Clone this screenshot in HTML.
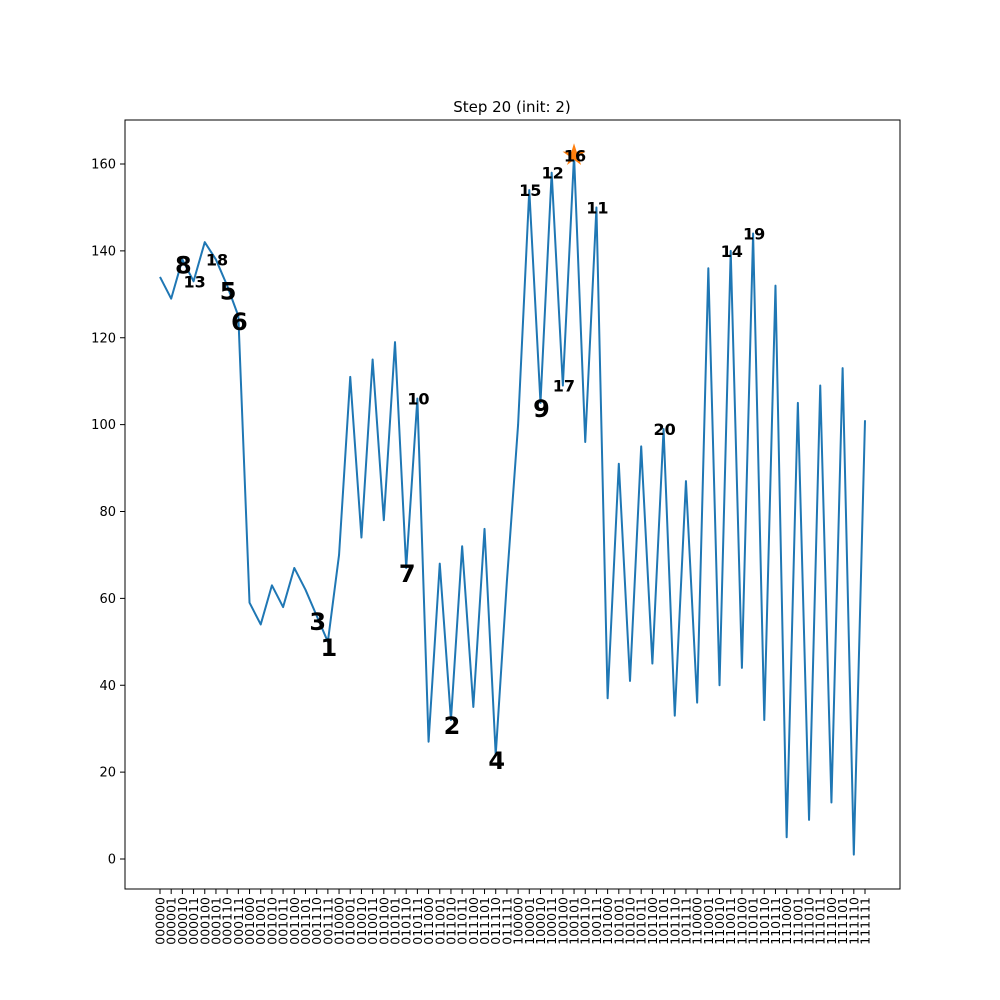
<!DOCTYPE html>
<html><head><meta charset="utf-8"><style>
html,body{margin:0;padding:0;background:#fff;}
svg{display:block;font-family:"DejaVu Sans","Liberation Sans",sans-serif;}
</style></head><body>
<svg id="chart" width="1000" height="1000">
<rect width="1000" height="1000" fill="#fff"/>
<text x="512" y="112" text-anchor="middle" font-size="15">Step 20 (init: 2)</text>
<g id="plot"></g>
<rect x="125" y="120" width="775" height="769" fill="none" stroke="#000" stroke-width="1"/>
</svg>
<script>
const values = [134,129,138,133,142,138,132,125,59,54,63,58,67,62,56,50,70,111,74,115,78,119,67,106,27,68,32,72,35,76,24,64,100,154,105,158,109,162,96,150,37,91,41,95,45,99,33,87,36,136,40,140,44,144,32,132,5,105,9,109,13,113,1,101];
const rankIdx = [15,26,14,30,6,7,22,2,34,23,39,35,3,51,33,37,36,5,53,45];
const rankLbl = [1,2,3,4,5,6,7,8,9,10,11,12,13,14,15,16,17,18,19,20];
const yTicks = [0,20,40,60,80,100,120,140,160];
const bestIdx = [37];
const NS='http://www.w3.org/2000/svg';
const g=document.getElementById('plot');
const xs=i=>160+i*(705/63);
const ys=v=>859-v*(695/160);
function mk(t,a){const e=document.createElementNS(NS,t);for(const k in a)e.setAttribute(k,a[k]);g.appendChild(e);return e;}
yTicks.forEach(t=>{
  const l=mk('line',{x1:120,x2:125,y1:ys(t),y2:ys(t),stroke:'#000'});
  
  
  const tx=mk('text',{x:116,y:ys(t)+4.5,'text-anchor':'end','font-size':13});
  tx.textContent=t;
  
  
});
values.forEach((v,i)=>{
  const x=xs(i);
  const l=mk('line',{x1:x,x2:x,y1:889,y2:894,stroke:'#000'});
  
  
  const lab=i.toString(2).padStart(6,'0');
  const tx=mk('text',{x:0,y:0,'font-size':12.5,'text-anchor':'end',transform:`translate(${x+4.5},897) rotate(-90)`});
  tx.textContent=lab;
  
  
});
const pl=mk('polyline',{points:values.map((v,i)=>xs(i)+','+ys(values[i])).join(' '),fill:'none',stroke:'#1f77b4','stroke-width':2,'stroke-linejoin':'round'});


bestIdx.forEach(i=>{
  const cx=xs(i),cy=ys(values[i]);let p=[];
  for(let k=0;k<10;k++){const r=k%2?4.5:12;const a=-Math.PI/2+k*Math.PI/5;p.push((cx+r*Math.cos(a)).toFixed(1)+','+(cy+r*Math.sin(a)).toFixed(1));}
  const s=mk('polygon',{points:p.join(' '),fill:'#ff7f0e'});
  
  
});
rankIdx.forEach((idx,k)=>{
  const r=rankLbl[k];const big=r<10;
  const tx=mk('text',{x:xs(idx)+1,y:ys(values[idx])+(big?14:6),'text-anchor':'middle','font-size':big?24:16,'font-weight':'bold'});
  tx.textContent=r;
  
  
});
</script>
</body></html>
